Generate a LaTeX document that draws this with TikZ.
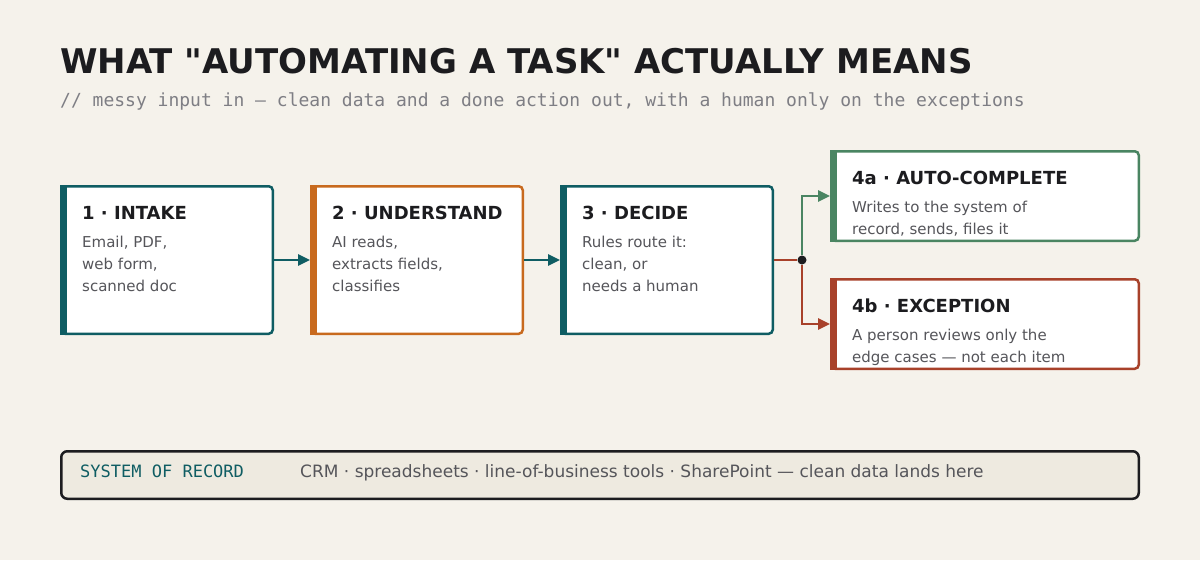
\documentclass[tikz,border=0pt]{standalone}
\usepackage{fontspec}
\setmainfont{DejaVu Sans}
\newfontfamily\monofont{DejaVu Sans Mono}
\newfontfamily\titlefont{DejaVu Sans}
\usetikzlibrary{arrows.meta}

\definecolor{paper}{HTML}{F5F2EB}
\definecolor{ink}{HTML}{1C1C1F}
\definecolor{subgray}{HTML}{7E7E84}
\definecolor{bodygray}{HTML}{55555A}
\definecolor{tealc}{HTML}{0F5D63}
\definecolor{orangec}{HTML}{C86A1E}
\definecolor{greenc}{HTML}{4A8562}
\definecolor{redc}{HTML}{A8412A}
\definecolor{recordfill}{HTML}{EEEAE0}

\tikzset{
	stage/.style={draw=#1, line width=2.5pt, fill=white, rounded corners=4pt, anchor=north west, inner sep=0pt, minimum width=211.5pt, minimum height=147.5pt},
	head/.style={font=\bfseries\fontsize{18}{20}\selectfont, text=ink, anchor=base west, inner sep=0pt},
	body/.style={font=\fontsize{15}{22}\selectfont, text=bodygray, align=left, anchor=north west, inner sep=0pt},
	link/.style={line width=2.5pt, -{Triangle[length=12pt,width=11pt]}},
}

\begin{document}
\begin{tikzpicture}[x=1pt,y=-1pt]
	\fill[paper] (0,0) rectangle (1200,560);
	\useasboundingbox (0,0) rectangle (1200,560);

	% title
	\node[font=\titlefont\bfseries\fontsize{34}{38}\selectfont, text=ink, anchor=base west, inner sep=0pt] (title) at (60,73) {WHAT "AUTOMATING A TASK" ACTUALLY MEANS};
	\node[font=\monofont\fontsize{18}{20}\selectfont, text=subgray, anchor=base west, inner sep=0pt] (subtitle) at (60,106) {// messy input in — clean data and a done action out, with a human only on the exceptions};

	% stages
	\node[stage=tealc] (intake) at (60,185) {};
	\node[stage=orangec] (understand) at (310,185) {};
	\node[stage=tealc] (decide) at (560,185) {};
	\node[stage=greenc, minimum width=307.5pt, minimum height=89.5pt] (auto) at (830,150) {};
	\node[stage=redc, minimum width=307.5pt, minimum height=89.5pt] (exception) at (830,278) {};

	\fill[tealc] (intake.north west) rectangle ([xshift=6.5pt]intake.south west);
	\fill[orangec] (understand.north west) rectangle ([xshift=6.5pt]understand.south west);
	\fill[tealc] (decide.north west) rectangle ([xshift=6.5pt]decide.south west);
	\fill[greenc] (auto.north west) rectangle ([xshift=6.5pt]auto.south west);
	\fill[redc] (exception.north west) rectangle ([xshift=6.5pt]exception.south west);

	\node[head] (intakehead) at ([shift={(22,34)}]intake.north west) {1 · INTAKE};
	\node[body] (intakebody) at ([shift={(22,51)}]intake.north west) {Email, PDF,\\web form,\\scanned doc};
	\node[head] (understandhead) at ([shift={(22,34)}]understand.north west) {2 · UNDERSTAND};
	\node[body] (understandbody) at ([shift={(22,51)}]understand.north west) {AI reads,\\extracts fields,\\classifies};
	\node[head] (decidehead) at ([shift={(22,34)}]decide.north west) {3 · DECIDE};
	\node[body] (decidebody) at ([shift={(22,51)}]decide.north west) {Rules route it:\\clean, or\\needs a human};
	\node[head] (autohead) at ([shift={(22,34)}]auto.north west) {4a · AUTO-COMPLETE};
	\node[body] (autobody) at ([shift={(22,51)}]auto.north west) {Writes to the system of\\record, sends, files it};
	\node[head] (exceptionhead) at ([shift={(22,34)}]exception.north west) {4b · EXCEPTION};
	\node[body] (exceptionbody) at ([shift={(22,51)}]exception.north west) {A person reviews only the\\edge cases — not each item};

	% connectors
	\draw[link, tealc] (intake.east) -- (understand.west);
	\draw[link, tealc] (understand.east) -- (decide.west);
	\node[circle, fill=ink, inner sep=0pt, minimum size=9pt] (split) at ([xshift=28pt]decide.east) {};
	\draw[redc, line width=2.5pt] (decide.east) -- (split);
	\draw[link, greenc] (split) |- (auto.west);
	\draw[link, redc] (split) |- (exception.west);

	% system of record
	\node[draw=ink, line width=2.5pt, fill=recordfill, rounded corners=6pt, anchor=north west, inner sep=0pt, minimum width=1077.5pt, minimum height=47.5pt] (record) at (60,450) {};
	\node[font=\monofont\fontsize{17}{20}\selectfont, text=tealc, anchor=base west, inner sep=0pt] (recordlabel) at ([shift={(20,27)}]record.north west) {SYSTEM OF RECORD};
	\node[font=\fontsize{17}{20}\selectfont, text=bodygray, anchor=base west, inner sep=0pt] (recordtext) at ([shift={(240,27)}]record.north west) {CRM · spreadsheets · line-of-business tools · SharePoint — clean data lands here};
\end{tikzpicture}
\end{document}
